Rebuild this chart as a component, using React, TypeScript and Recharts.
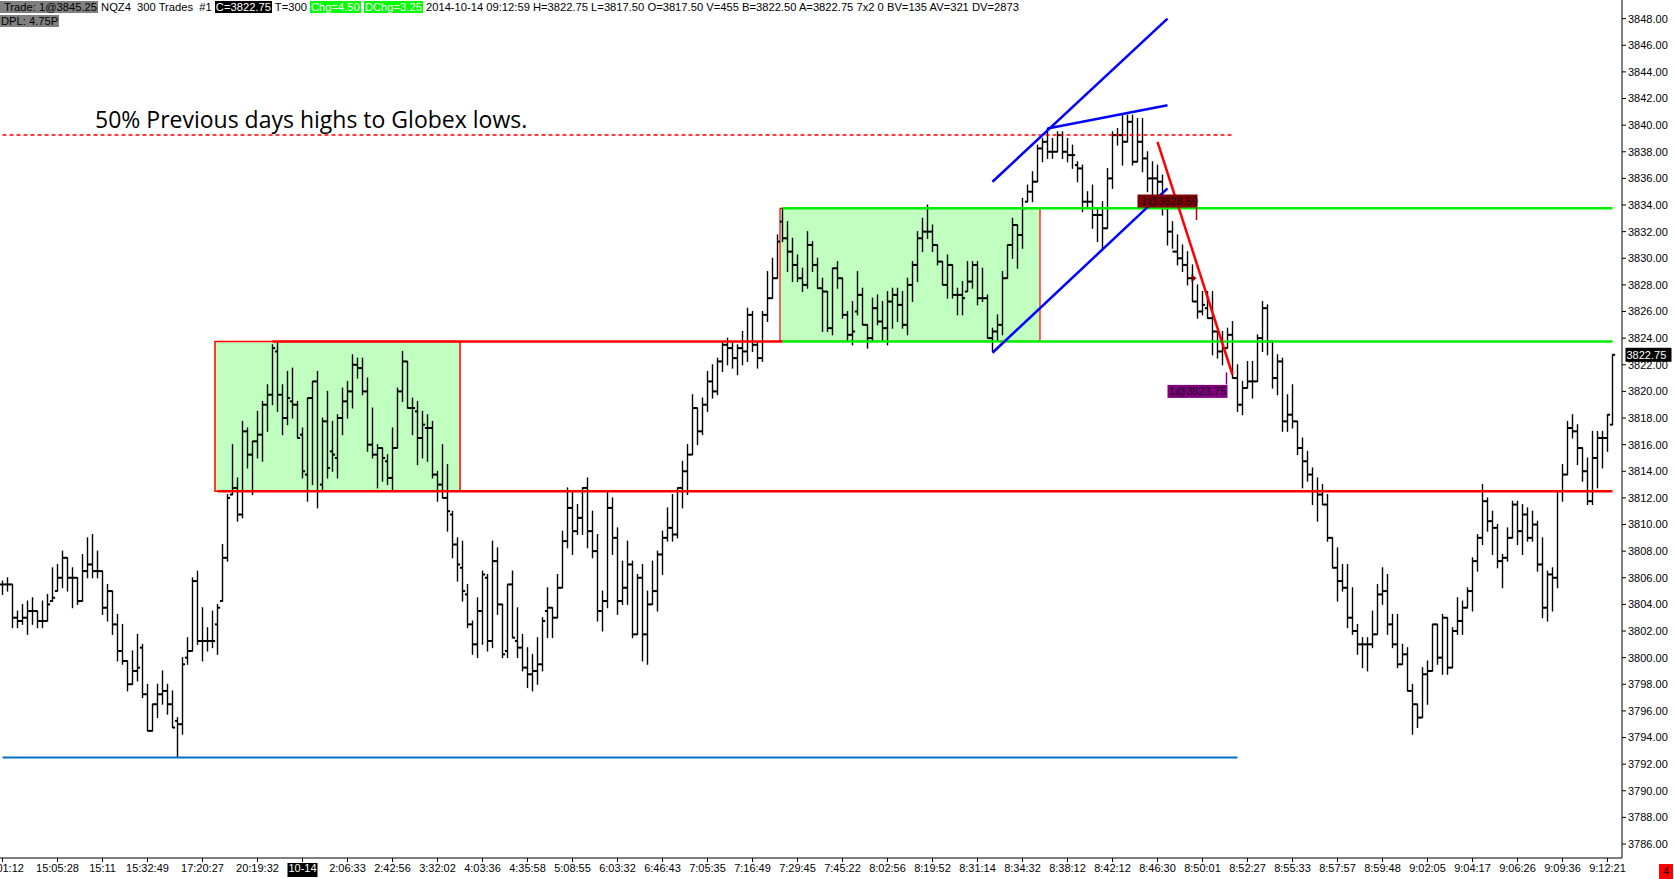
import React from 'react';
import { ComposedChart, Bar, XAxis, YAxis, ReferenceArea, ReferenceLine, ReferenceDot } from 'recharts';

// 300-trade bars (index = bar number from the left)
const highs = [
  3805.75, 3806.0, 3805.5, 3803.5, 3804.0, 3804.25, 3804.5, 3803.5, 3804.25, 3804.75,
  3806.75, 3807.0, 3808.0, 3807.5, 3806.75, 3806.0, 3807.75, 3809.0, 3809.25, 3808.0,
  3806.5, 3805.5, 3805.0, 3803.25, 3802.5, 3799.75, 3800.5, 3801.75, 3801.0, 3798.0,
  3796.5, 3798.0, 3799.0, 3798.0, 3797.5, 3795.5, 3800.0, 3801.5, 3806.0, 3806.5,
  3803.75, 3802.25, 3803.5, 3804.0, 3808.5, 3812.25, 3816.0, 3813.5, 3817.75, 3817.25,
  3816.25, 3818.5, 3819.25, 3820.5, 3823.5, 3823.75, 3820.5, 3821.5, 3821.75, 3819.25,
  3817.25, 3819.5, 3820.75, 3821.5, 3818.0, 3820.0, 3817.75, 3818.25, 3820.25, 3820.75,
  3822.75, 3822.5, 3822.5, 3821.0, 3818.75, 3816.0, 3815.75, 3815.25, 3817.25, 3820.25,
  3823.0, 3822.25, 3819.5, 3819.25, 3818.5, 3818.25, 3817.75, 3814.0, 3816.0, 3814.5,
  3811.0, 3809.0, 3808.75, 3805.5, 3802.75, 3804.5, 3806.5, 3806.25, 3808.75, 3808.25,
  3804.0, 3805.5, 3806.5, 3803.75, 3801.75, 3800.75, 3800.25, 3801.5, 3803.0, 3805.25,
  3803.75, 3806.25, 3809.5, 3812.75, 3812.5, 3811.5, 3812.75, 3813.5, 3811.0, 3809.25,
  3805.0, 3812.5, 3812.0, 3809.75, 3807.25, 3808.75, 3807.25, 3806.25, 3807.0, 3805.0,
  3807.25, 3808.0, 3809.5, 3811.25, 3812.25, 3812.75, 3814.75, 3816.0, 3819.75, 3818.75,
  3819.5, 3821.5, 3822.0, 3822.5, 3823.75, 3824.0, 3823.75, 3823.5, 3824.5, 3826.25,
  3826.0, 3823.75, 3826.0, 3829.0, 3830.0, 3831.75, 3833.75, 3832.75, 3831.5, 3830.25,
  3829.25, 3832.0, 3831.25, 3830.0, 3828.5, 3827.5, 3829.25, 3829.75, 3828.5, 3826.0,
  3826.75, 3829.0, 3827.75, 3825.0, 3827.0, 3827.25, 3826.75, 3827.5, 3827.75, 3827.75,
  3827.5, 3828.5, 3829.75, 3832.0, 3833.0, 3834.0, 3832.5, 3831.0, 3829.75, 3830.25,
  3829.5, 3827.75, 3828.25, 3829.75, 3829.75, 3829.75, 3829.25, 3827.25, 3824.75, 3825.75,
  3829.0, 3831.0, 3833.0, 3832.5, 3834.5, 3835.5, 3836.5, 3838.5, 3839.0, 3839.75,
  3839.0, 3839.5, 3839.5, 3839.0, 3838.5, 3837.25, 3837.0, 3835.0, 3835.5, 3833.75,
  3834.25, 3836.75, 3839.5, 3839.75, 3840.75, 3840.75, 3840.75, 3840.5, 3840.5, 3838.0,
  3837.25, 3837.0, 3836.25, 3833.75, 3832.75, 3831.75, 3831.0, 3830.5, 3829.5, 3828.0,
  3827.5, 3827.5, 3827.5, 3824.5, 3824.5, 3824.75, 3825.25, 3822.0, 3820.75, 3822.25,
  3822.25, 3824.25, 3826.75, 3826.5, 3823.75, 3822.75, 3822.5, 3819.75, 3820.5, 3817.75,
  3816.5, 3815.5, 3814.25, 3813.5, 3813.0, 3812.25, 3809.0, 3808.25, 3807.0, 3807.0,
  3805.25, 3802.5, 3801.5, 3801.5, 3803.5, 3805.5, 3806.75, 3806.25, 3803.25, 3803.25,
  3801.0, 3800.75, 3798.0, 3796.5, 3799.25, 3799.75, 3802.5, 3802.5, 3803.25, 3803.0,
  3802.25, 3804.5, 3804.25, 3805.25, 3807.5, 3809.25, 3813.0, 3812.0, 3811.0, 3810.0,
  3807.75, 3809.75, 3811.75, 3811.75, 3811.5, 3811.25, 3811.0, 3810.25, 3809.0, 3806.5,
  3806.75, 3812.5, 3814.5, 3817.75, 3818.25, 3817.5, 3815.75, 3815.0, 3817.0, 3817.0,
  3817.0, 3818.25, 3822.75,
];

const lows = [
  3804.75, 3805.0, 3802.25, 3802.25, 3802.5, 3801.75, 3802.5, 3802.25, 3802.25, 3802.75,
  3804.25, 3805.0, 3805.25, 3805.0, 3803.75, 3804.0, 3804.25, 3806.0, 3806.0, 3806.0,
  3803.25, 3802.75, 3801.75, 3799.75, 3799.5, 3797.5, 3798.0, 3798.25, 3797.0, 3794.5,
  3794.5, 3795.5, 3796.5, 3795.75, 3794.75, 3792.5, 3794.25, 3799.5, 3800.5, 3801.0,
  3799.75, 3800.5, 3800.75, 3800.25, 3804.25, 3807.25, 3812.25, 3810.25, 3810.5, 3814.25,
  3812.25, 3815.0, 3814.75, 3817.0, 3819.0, 3818.5, 3816.75, 3817.5, 3818.0, 3816.5,
  3813.5, 3811.75, 3813.0, 3811.25, 3812.5, 3813.5, 3814.0, 3813.5, 3816.75, 3818.0,
  3818.75, 3821.0, 3819.75, 3815.5, 3815.0, 3812.75, 3813.25, 3813.0, 3812.5, 3815.75,
  3819.25, 3818.75, 3816.75, 3814.5, 3815.0, 3814.75, 3813.5, 3811.75, 3812.0, 3809.5,
  3807.5, 3805.75, 3804.25, 3802.25, 3800.25, 3800.0, 3801.0, 3800.5, 3800.75, 3803.25,
  3800.0, 3800.0, 3801.5, 3800.0, 3799.0, 3797.75, 3797.5, 3798.0, 3799.0, 3801.5,
  3801.5, 3803.0, 3805.25, 3808.25, 3807.75, 3809.25, 3809.25, 3808.25, 3807.5, 3802.75,
  3802.0, 3803.75, 3807.75, 3803.25, 3804.0, 3804.0, 3801.5, 3801.75, 3799.75, 3799.5,
  3804.0, 3803.5, 3806.25, 3808.75, 3808.75, 3809.0, 3811.25, 3812.25, 3815.25, 3816.0,
  3816.75, 3818.5, 3819.5, 3819.75, 3821.5, 3822.0, 3821.75, 3821.25, 3822.0, 3822.25,
  3823.0, 3821.75, 3822.25, 3825.25, 3827.0, 3828.5, 3831.25, 3829.0, 3828.25, 3828.25,
  3827.5, 3827.75, 3829.0, 3827.75, 3824.5, 3824.5, 3824.25, 3827.75, 3825.5, 3823.75,
  3823.5, 3825.75, 3825.0, 3823.25, 3823.75, 3825.0, 3823.75, 3823.5, 3824.75, 3825.25,
  3824.75, 3824.25, 3826.75, 3828.25, 3830.5, 3831.5, 3830.5, 3829.5, 3828.0, 3827.0,
  3827.0, 3825.75, 3825.75, 3827.5, 3827.75, 3826.5, 3826.75, 3824.0, 3823.0, 3823.75,
  3824.25, 3828.5, 3830.0, 3829.25, 3830.75, 3834.25, 3834.25, 3835.75, 3837.25, 3837.5,
  3837.5, 3838.0, 3837.5, 3837.25, 3836.75, 3835.75, 3833.5, 3833.75, 3832.25, 3831.25,
  3830.75, 3832.25, 3835.25, 3838.5, 3837.0, 3838.75, 3837.0, 3837.25, 3836.5, 3835.0,
  3834.75, 3834.25, 3833.25, 3831.0, 3830.75, 3829.5, 3829.0, 3828.0, 3826.75, 3825.5,
  3825.75, 3825.5, 3822.75, 3822.5, 3822.0, 3823.25, 3821.0, 3818.5, 3818.25, 3820.25,
  3819.5, 3820.75, 3823.0, 3822.75, 3820.25, 3819.75, 3817.0, 3817.0, 3817.25, 3815.25,
  3812.75, 3813.25, 3811.5, 3810.25, 3811.5, 3808.75, 3806.75, 3804.25, 3805.0, 3802.25,
  3801.75, 3800.25, 3799.25, 3799.0, 3800.75, 3801.75, 3804.0, 3801.75, 3800.75, 3799.25,
  3799.5, 3797.5, 3794.25, 3794.75, 3795.5, 3796.5, 3799.0, 3799.5, 3798.75, 3798.75,
  3799.25, 3801.75, 3801.75, 3803.75, 3803.5, 3806.5, 3808.5, 3809.5, 3807.75, 3806.75,
  3805.25, 3807.25, 3809.0, 3808.5, 3807.75, 3808.75, 3808.75, 3806.5, 3803.0, 3802.75,
  3803.5, 3805.25, 3811.75, 3813.75, 3816.5, 3814.5, 3813.25, 3811.5, 3811.5, 3812.75,
  3814.25, 3815.5, 3817.5,
];

const opens = [
  3805.5, 3805.5, 3805.5, 3803.0, 3802.75, 3803.0, 3803.5, 3803.5, 3802.75, 3802.75,
  3804.25, 3805.0, 3806.0, 3807.5, 3806.0, 3806.0, 3804.25, 3806.5, 3807.0, 3806.5,
  3806.5, 3803.75, 3805.0, 3802.5, 3800.5, 3799.75, 3798.0, 3799.0, 3800.75, 3797.25,
  3794.5, 3796.5, 3797.25, 3797.5, 3796.5, 3795.25, 3795.0, 3800.0, 3800.5, 3805.75,
  3801.25, 3801.25, 3801.25, 3802.5, 3804.25, 3807.5, 3812.25, 3812.75, 3810.75, 3817.0,
  3815.25, 3816.25, 3816.75, 3819.0, 3819.75, 3823.0, 3819.75, 3818.0, 3819.25, 3819.0,
  3816.75, 3813.75, 3819.5, 3820.75, 3813.0, 3817.75, 3815.5, 3815.0, 3818.0, 3819.25,
  3820.0, 3822.0, 3821.75, 3820.0, 3816.0, 3815.25, 3815.75, 3814.75, 3813.5, 3815.75,
  3820.0, 3822.25, 3818.75, 3818.5, 3816.5, 3817.25, 3817.25, 3813.75, 3813.0, 3812.0,
  3810.75, 3808.5, 3806.75, 3804.75, 3802.5, 3801.0, 3803.5, 3806.0, 3801.25, 3807.25,
  3804.0, 3800.5, 3805.5, 3801.25, 3800.75, 3799.25, 3798.75, 3799.0, 3799.5, 3803.5,
  3803.75, 3803.0, 3805.25, 3808.75, 3811.25, 3809.5, 3810.5, 3812.75, 3809.5, 3808.0,
  3803.5, 3804.25, 3811.25, 3809.0, 3804.25, 3805.25, 3807.0, 3801.75, 3806.0, 3801.75,
  3804.0, 3805.0, 3807.75, 3809.0, 3809.75, 3809.25, 3812.75, 3814.0, 3815.25, 3818.75,
  3817.0, 3819.0, 3820.75, 3820.0, 3822.25, 3823.5, 3823.25, 3822.5, 3823.25, 3823.0,
  3825.75, 3823.5, 3822.5, 3825.75, 3827.0, 3828.5, 3832.75, 3831.5, 3830.5, 3829.5,
  3828.5, 3828.0, 3831.0, 3829.5, 3827.75, 3827.5, 3824.75, 3829.25, 3828.5, 3825.75,
  3824.25, 3826.0, 3827.25, 3825.0, 3824.0, 3826.25, 3825.25, 3824.75, 3826.75, 3827.25,
  3826.5, 3825.0, 3828.0, 3829.5, 3831.5, 3832.0, 3832.0, 3831.0, 3829.75, 3828.0,
  3829.5, 3827.25, 3827.25, 3827.5, 3828.25, 3829.5, 3827.0, 3827.0, 3824.0, 3824.5,
  3825.0, 3828.5, 3831.0, 3832.5, 3831.75, 3834.25, 3835.0, 3835.75, 3838.25, 3838.75,
  3838.0, 3838.0, 3839.25, 3838.0, 3837.75, 3837.0, 3836.75, 3834.25, 3834.25, 3833.25,
  3833.25, 3832.25, 3836.0, 3839.25, 3839.25, 3838.75, 3840.25, 3837.25, 3838.75, 3837.5,
  3836.0, 3836.0, 3835.75, 3833.75, 3832.0, 3830.5, 3830.0, 3829.5, 3828.5, 3826.75,
  3826.0, 3826.25, 3825.5, 3824.5, 3823.0, 3823.25, 3824.25, 3821.0, 3819.0, 3820.25,
  3820.75, 3820.75, 3824.0, 3826.25, 3823.75, 3821.0, 3822.25, 3817.75, 3818.25, 3817.75,
  3815.75, 3814.75, 3813.75, 3812.5, 3812.25, 3811.5, 3809.0, 3806.75, 3805.75, 3805.25,
  3803.0, 3802.0, 3801.0, 3801.0, 3801.0, 3801.75, 3804.75, 3805.0, 3802.5, 3801.0,
  3799.5, 3800.25, 3797.5, 3796.5, 3795.5, 3798.75, 3799.0, 3802.5, 3800.0, 3803.0,
  3799.25, 3802.0, 3802.75, 3803.75, 3805.0, 3807.25, 3809.0, 3811.75, 3810.25, 3809.75,
  3807.25, 3807.5, 3809.0, 3811.5, 3809.5, 3810.75, 3809.0, 3810.0, 3807.0, 3803.75,
  3806.25, 3806.0, 3812.5, 3813.75, 3817.25, 3817.0, 3815.75, 3814.0, 3811.75, 3815.0,
  3816.5, 3816.5, 3817.5,
];

const closes = [
  3805.5, 3805.5, 3803.0, 3802.75, 3803.0, 3803.5, 3803.5, 3802.75, 3802.75, 3804.0,
  3804.5, 3806.0, 3807.5, 3806.0, 3806.0, 3804.25, 3806.5, 3807.0, 3806.5, 3806.5,
  3803.75, 3805.0, 3802.5, 3800.5, 3799.75, 3798.0, 3799.0, 3799.25, 3797.25, 3794.5,
  3796.5, 3797.25, 3797.5, 3796.5, 3794.75, 3795.0, 3799.5, 3800.5, 3805.75, 3801.25,
  3801.25, 3801.25, 3801.25, 3803.75, 3807.5, 3812.0, 3812.75, 3810.75, 3817.0, 3815.25,
  3816.25, 3816.75, 3819.0, 3819.75, 3823.25, 3819.75, 3818.0, 3819.5, 3819.0, 3816.5,
  3814.0, 3819.5, 3820.75, 3812.5, 3817.75, 3814.25, 3815.25, 3818.0, 3819.25, 3820.0,
  3822.0, 3821.75, 3820.0, 3816.0, 3815.25, 3815.75, 3815.0, 3813.5, 3815.75, 3820.0,
  3822.25, 3818.75, 3818.75, 3816.5, 3817.5, 3817.25, 3813.75, 3813.0, 3812.0, 3811.0,
  3808.5, 3807.0, 3805.0, 3802.5, 3801.0, 3803.5, 3806.25, 3801.25, 3807.25, 3804.0,
  3800.25, 3805.5, 3801.5, 3800.75, 3799.25, 3798.75, 3799.0, 3799.5, 3802.75, 3803.75,
  3803.0, 3805.25, 3808.75, 3811.25, 3809.5, 3810.5, 3812.75, 3809.5, 3808.0, 3803.5,
  3804.25, 3811.25, 3809.0, 3804.25, 3805.25, 3807.0, 3801.75, 3806.0, 3801.75, 3804.0,
  3805.0, 3807.75, 3809.0, 3809.75, 3809.25, 3812.75, 3814.0, 3815.25, 3818.75, 3817.0,
  3819.0, 3820.75, 3820.0, 3822.25, 3823.5, 3823.25, 3822.5, 3823.25, 3823.0, 3825.75,
  3823.5, 3822.5, 3825.75, 3827.0, 3828.5, 3831.25, 3831.5, 3830.5, 3829.5, 3828.5,
  3828.0, 3831.0, 3829.5, 3827.75, 3827.5, 3824.75, 3829.25, 3828.5, 3825.75, 3824.25,
  3824.5, 3827.25, 3825.0, 3824.0, 3826.25, 3825.25, 3824.75, 3826.75, 3827.25, 3826.5,
  3825.0, 3828.0, 3829.5, 3831.5, 3832.0, 3832.0, 3831.0, 3829.75, 3828.0, 3829.5,
  3827.25, 3827.25, 3827.0, 3828.25, 3829.5, 3827.0, 3827.0, 3824.0, 3824.5, 3825.0,
  3828.5, 3831.0, 3832.5, 3831.75, 3833.75, 3835.0, 3835.75, 3838.25, 3838.75, 3838.0,
  3838.0, 3839.25, 3838.0, 3837.75, 3837.75, 3836.75, 3834.25, 3834.25, 3833.25, 3833.25,
  3832.25, 3836.0, 3839.25, 3839.25, 3838.75, 3840.25, 3837.25, 3838.75, 3837.5, 3836.0,
  3836.0, 3835.75, 3834.0, 3832.0, 3830.5, 3830.0, 3829.5, 3828.5, 3826.75, 3826.0,
  3826.5, 3825.5, 3824.5, 3823.0, 3823.25, 3824.25, 3821.0, 3819.0, 3820.25, 3820.75,
  3820.75, 3824.0, 3826.25, 3823.75, 3821.0, 3822.25, 3817.75, 3818.25, 3817.75, 3815.75,
  3814.75, 3813.75, 3812.5, 3812.25, 3811.5, 3809.0, 3806.75, 3805.75, 3805.25, 3803.0,
  3802.0, 3801.0, 3801.0, 3801.0, 3801.75, 3804.75, 3805.0, 3802.5, 3801.0, 3799.5,
  3800.25, 3797.5, 3796.5, 3795.5, 3798.75, 3799.0, 3802.5, 3800.0, 3803.0, 3799.25,
  3802.0, 3802.75, 3803.75, 3805.0, 3807.25, 3809.0, 3811.75, 3810.25, 3809.75, 3807.25,
  3807.5, 3809.0, 3811.5, 3809.5, 3810.75, 3809.0, 3810.0, 3807.0, 3803.75, 3806.25,
  3806.0, 3812.5, 3813.75, 3817.25, 3817.0, 3815.75, 3814.0, 3811.75, 3815.0, 3816.5,
  3816.5, 3818.25, 3822.75,
];

const timeLabels = [
  '15:01:12', '15:05:28', '15:11', '15:32:49', '17:20:27', '20:19:32', '10-14', '2:06:33', '2:42:56',
  '3:32:02', '4:03:36', '4:35:58', '5:08:55', '6:03:32', '6:46:43', '7:05:35', '7:16:49', '7:29:45',
  '7:45:22', '8:02:56', '8:19:52', '8:31:14', '8:34:32', '8:38:12', '8:42:12', '8:46:30', '8:50:01',
  '8:52:27', '8:55:33', '8:57:57', '8:59:48', '9:02:05', '9:04:17', '9:06:26', '9:09:36', '9:12:21',
];
const tickBars = [
  0, 11, 20, 29, 40, 51, 60, 69, 78, 87, 96, 105, 114, 123, 132, 141, 150, 159,
  168, 177, 186, 195, 204, 213, 222, 231, 240, 249, 258, 267, 276, 285, 294, 303, 312, 321,
];
const priceTicks = [
  3786, 3788, 3790, 3792, 3794, 3796, 3798, 3800, 3802, 3804, 3806, 3808, 3810, 3812, 3814, 3816,
  3818, 3820, 3822, 3824, 3826, 3828, 3830, 3832, 3834, 3836, 3838, 3840, 3842, 3844, 3846, 3848,
];

const FONT = '"Liberation Sans", Arial, sans-serif';
const GREEN = '#00ee00';
const BOX_FILL = '#c0ffc0';

const rows = highs.map((h, i) => ({
  i,
  range: [lows[i], h],
  high: h,
  low: lows[i],
  open: opens[i],
  close: closes[i],
}));

const OhlcBar = (props: any) => {
  const { x, y, width, height, payload } = props;
  if (!payload) return null;
  const cx = x + width / 2;
  const top = Math.min(y, y + height);
  const bot = Math.max(y, y + height);
  const span = payload.high - payload.low;
  const py = (p: number) => (span > 0 ? top + ((payload.high - p) / span) * (bot - top) : top);
  const yo = py(payload.open);
  const yc = py(payload.close);
  return (
    <g>
      <line x1={cx} x2={cx} y1={top - 0.5} y2={bot + 0.5} stroke="#000" strokeWidth={1.4} />
      <line x1={cx - 2.6} x2={cx} y1={yo} y2={yo} stroke="#000" strokeWidth={2} />
      <line x1={cx} x2={cx + 2.6} y1={yc} y2={yc} stroke="#000" strokeWidth={2} />
    </g>
  );
};

const TimeTick = (props: any) => {
  const { x, y, payload } = props;
  const label = timeLabels[tickBars.indexOf(payload.value)];
  if (label === '10-14') {
    return (
      <g>
        <rect x={x - 15} y={y - 1} width={30} height={14} fill="#000" />
        <text x={x} y={y} dy="0.75em" textAnchor="middle" fill="#fff" fontSize={11} fontFamily={FONT}>
          {label}
        </text>
      </g>
    );
  }
  return (
    <text x={x} y={y} dy="0.75em" textAnchor="middle" fill="#000" fontSize={11} fontFamily={FONT}>
      {label}
    </text>
  );
};

const TradeTag = ({ cx, cy, text, fill, markX, markY1, markY2, markColor }: any) => (
  <g>
    <rect x={cx - 30} y={cy - 6.5} width={60} height={13} fill={fill} />
    <text x={cx} y={cy} dy="0.36em" textAnchor="middle" fontSize={11} fontFamily={FONT} fill="#1a001a">
      {text}
    </text>
    <line x1={cx + markX} x2={cx + markX} y1={cy + markY1} y2={cy + markY2} stroke={markColor} strokeWidth={1.5} />
  </g>
);

const PriceTag = ({ cx, cy }: any) => (
  <g>
    <rect x={cx + 13} y={cy - 7} width={46} height={14} fill="#000" />
    <text x={cx + 14} y={cy} dy="0.36em" fontSize={11} fontFamily={FONT} fill="#fff">
      3822.75
    </text>
  </g>
);

const Arrow = ({ cx, cy }: any) => (
  <path d={`M${cx - 2},${cy - 4} L${cx + 3},${cy} L${cx - 2},${cy + 4} Z`} fill="#800000" />
);

const chip = (bg: string, color: string): React.CSSProperties => ({
  background: bg,
  color,
  padding: '0 1px',
});

export default function App() {
  return (
    <div style={{ position: 'absolute', left: 0, top: 0, width: 1674, height: 879, background: '#fff', overflow: 'hidden' }}>
      <ComposedChart
        width={1674}
        height={879}
        data={rows}
        margin={{ top: 0, right: 0, bottom: 0, left: 0 }}
        barCategoryGap={0}
      >
        <ReferenceArea x1={43} x2={91} y1={3812.5} y2={3823.75} fill={BOX_FILL} fillOpacity={1} stroke="#ff0000" strokeWidth={1.5} />
        <ReferenceArea x1={156} x2={207} y1={3823.75} y2={3833.75} fill={BOX_FILL} fillOpacity={1} stroke="#ff0000" strokeWidth={1.2} />
        <XAxis
          dataKey="i"
          type="category"
          ticks={tickBars}
          interval={0}
          height={21}
          padding={{ left: 0, right: 7 }}
          axisLine={{ stroke: '#000' }}
          tickLine={{ stroke: '#000' }}
          tickSize={4}
          tick={<TimeTick />}
        />
        <YAxis
          orientation="right"
          type="number"
          domain={[3784.95, 3849.4]}
          allowDataOverflow
          ticks={priceTicks}
          interval={0}
          width={52}
          tickSize={4}
          tickMargin={2}
          axisLine={{ stroke: '#000' }}
          tickLine={{ stroke: '#000' }}
          tick={{ fontSize: 11, fontFamily: FONT, fill: '#000' }}
          tickFormatter={(v: number) => v.toFixed(2)}
        />
        <Bar dataKey="range" shape={<OhlcBar />} isAnimationActive={false} />

        <ReferenceLine segment={[{ x: 0, y: 3839.25 }, { x: 246, y: 3839.25 }]} stroke="#ff0000" strokeWidth={1.5} strokeDasharray="4 3" />
        <ReferenceLine segment={[{ x: 0, y: 3792.5 }, { x: 247, y: 3792.5 }]} stroke="#0070c0" strokeWidth={2} />
        <ReferenceLine segment={[{ x: 54, y: 3823.75 }, { x: 156, y: 3823.75 }]} stroke="#ff0000" strokeWidth={2.5} />
        <ReferenceLine segment={[{ x: 43, y: 3812.5 }, { x: 322, y: 3812.5 }]} stroke="#ff0000" strokeWidth={2.5} />
        <ReferenceLine segment={[{ x: 156, y: 3833.75 }, { x: 322, y: 3833.75 }]} stroke={GREEN} strokeWidth={2.5} />
        <ReferenceLine segment={[{ x: 156, y: 3823.75 }, { x: 322, y: 3823.75 }]} stroke={GREEN} strokeWidth={2.5} />

        <ReferenceLine segment={[{ x: 198, y: 3835.75 }, { x: 233, y: 3848.0 }]} stroke="#0000ff" strokeWidth={2.5} />
        <ReferenceLine segment={[{ x: 209, y: 3839.75 }, { x: 233, y: 3841.5 }]} stroke="#0000ff" strokeWidth={2.5} />
        <ReferenceLine segment={[{ x: 198, y: 3822.9 }, { x: 233, y: 3835.25 }]} stroke="#0000ff" strokeWidth={2.5} />
        <ReferenceLine segment={[{ x: 231, y: 3838.75 }, { x: 246, y: 3821.25 }]} stroke="#ff0000" strokeWidth={2.5} />

        <ReferenceDot
          x={233}
          y={3834.3}
          r={0}
          shape={(p: any) => (
            <TradeTag cx={p.cx} cy={p.cy} text="-1@3828.50" fill="#800000" markX={29} markY1={7} markY2={19} markColor="#c00000" />
          )}
        />
        <ReferenceDot
          x={239}
          y={3820.0}
          r={0}
          shape={(p: any) => (
            <TradeTag cx={p.cx} cy={p.cy} text="1@3823.75" fill="#800080" markX={29} markY1={-19} markY2={-7} markColor="#800080" />
          )}
        />
        <ReferenceDot x={238} y={3828.5} r={0} shape={(p: any) => <Arrow cx={p.cx + 1} cy={p.cy} />} />
        <ReferenceDot x={322} y={3822.75} r={0} shape={(p: any) => <PriceTag cx={p.cx} cy={p.cy} />} />
      </ComposedChart>

      <div style={{ position: 'absolute', left: 0, top: 0, fontFamily: FONT, fontSize: 11.2, lineHeight: '14px', color: '#000', whiteSpace: 'pre' }}>
        <div>
          <span style={chip('#808080', '#000')}> Trade: 1@3845.25</span>
          {' NQZ4  300 Trades  #1 '}
          <span style={chip('#000', '#fff')}>C=3822.75</span>
          {' T=300 '}
          <span style={chip('#00ff00', '#fff')}>Chg=4.50</span>
          {' '}
          <span style={chip('#00ff00', '#fff')}>DChg=3.25</span>
          {' 2014-10-14 09:12:59 H=3822.75 L=3817.50 O=3817.50 V=455 B=3822.50 A=3822.75 7x2 0 BV=135 AV=321 DV=2873'}
        </div>
        <div>
          <span style={chip('#808080', '#000')}>DPL: 4.75P</span>
        </div>
      </div>

      <div style={{ position: 'absolute', left: 95, top: 104, fontFamily: '"Open Sans", "Noto Sans", sans-serif', fontSize: 23, lineHeight: '31px', color: '#000', whiteSpace: 'pre' }}>
        50% Previous days highs to Globex lows.
      </div>

      <div style={{ position: 'absolute', left: 1659, top: 864, width: 14, height: 15, background: '#ff0000', fontFamily: FONT, fontSize: 11, lineHeight: '15px', textAlign: 'center', color: '#200000' }}>
        4
      </div>
    </div>
  );
}
